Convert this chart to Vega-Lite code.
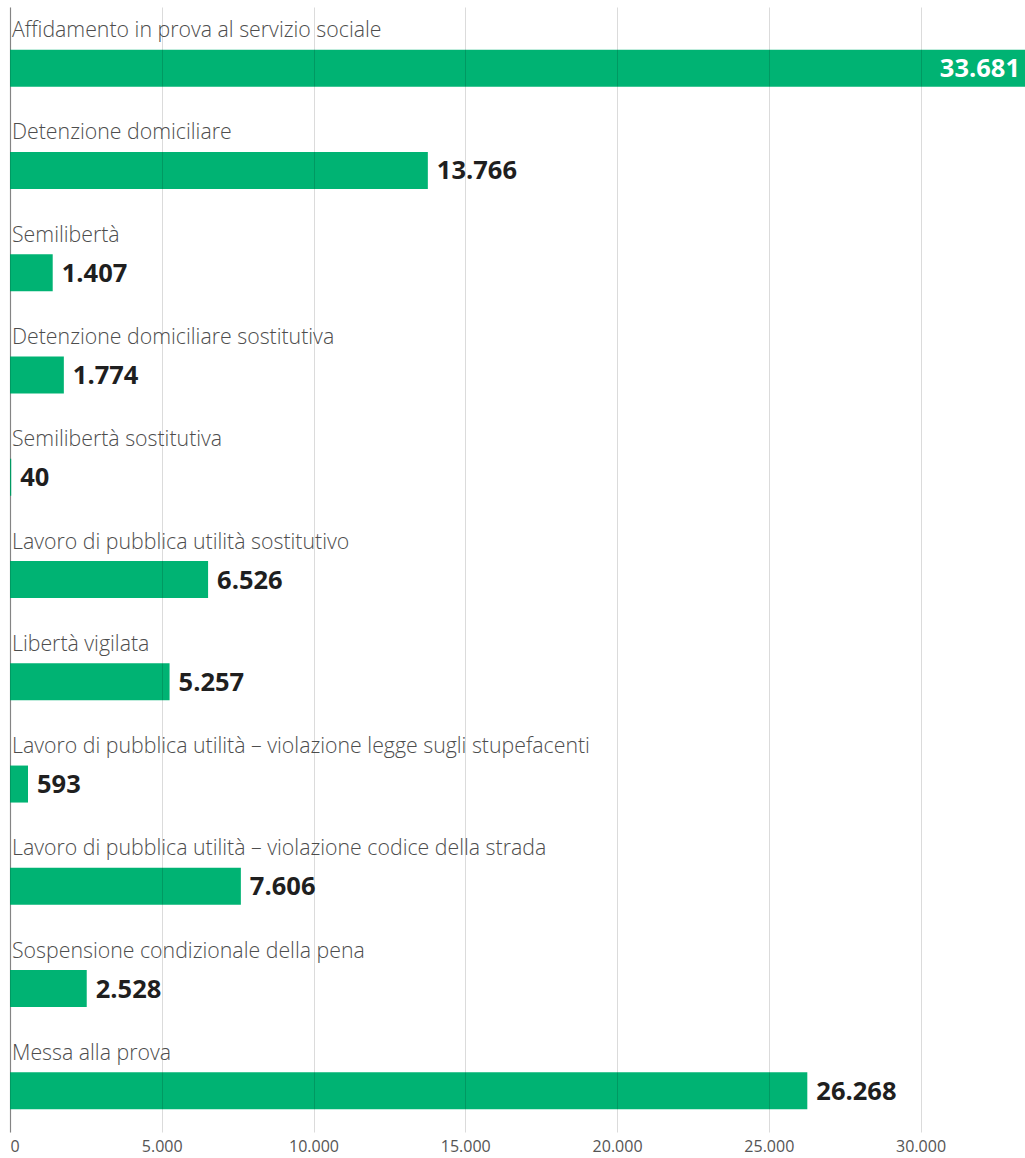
{
  "$schema": "https://vega.github.io/schema/vega-lite/v6.json",
  "width": 1025,
  "height": 1158,
  "padding": {"left": 10, "top": 7, "right": 0, "bottom": 4},
  "autosize": {"type": "fit", "contains": "padding"},
  "config": {
    "view": {"stroke": null},
    "font": "Open Sans",
    "locale": {"number": {"decimal": ",", "thousands": ".", "grouping": [3], "currency": ["€", ""]}}
  },
  "data": {
    "values": [
      {"category": "Affidamento in prova al servizio sociale", "value": 33681},
      {"category": "Detenzione domiciliare", "value": 13766},
      {"category": "Semilibertà", "value": 1407},
      {"category": "Detenzione domiciliare sostitutiva", "value": 1774},
      {"category": "Semilibertà sostitutiva", "value": 40},
      {"category": "Lavoro di pubblica utilità sostitutivo", "value": 6526},
      {"category": "Libertà vigilata", "value": 5257},
      {"category": "Lavoro di pubblica utilità – violazione legge sugli stupefacenti", "value": 593},
      {"category": "Lavoro di pubblica utilità – violazione codice della strada", "value": 7606},
      {"category": "Sospensione condizionale della pena", "value": 2528},
      {"category": "Messa alla prova", "value": 26268}
    ]
  },
  "encoding": {
    "y": {
      "field": "category",
      "type": "nominal",
      "sort": null,
      "scale": {"paddingInner": 0, "paddingOuter": 0},
      "axis": {"labels": false, "ticks": false, "title": null, "grid": false, "domainColor": "#9a9a9a", "domainWidth": 1.2}
    }
  },
  "layer": [
    {
      "mark": {"type": "bar", "height": 37, "yOffset": 10, "color": "#00b373"},
      "encoding": {
        "x": {
          "field": "value",
          "type": "quantitative",
          "scale": {"domain": [0, 33440], "nice": false, "clamp": true},
          "axis": {
            "values": [0, 5000, 10000, 15000, 20000, 25000, 30000],
            "format": ",d",
            "title": null,
            "domain": false,
            "ticks": false,
            "grid": true,
            "gridColor": "#000000",
            "gridOpacity": 0.14,
            "labelFontSize": 16,
            "labelColor": "#555555",
            "labelPadding": 6,
            "labelBaseline": "top",
            "zindex": 1
          }
        }
      }
    },
    {
      "mark": {"type": "text", "align": "left", "baseline": "alphabetic", "dx": 2, "dy": -21, "fontSize": 21.3, "fontWeight": 300, "color": "#4d4d4d"},
      "encoding": {
        "x": {"datum": 0, "type": "quantitative"},
        "text": {"field": "category"}
      }
    },
    {
      "transform": [{"filter": "datum.value < 30000"}],
      "mark": {"type": "text", "align": "left", "baseline": "middle", "dx": 9, "dy": 11, "fontSize": 25.5, "fontWeight": "bold", "color": "#1f1f1f"},
      "encoding": {
        "x": {"field": "value", "type": "quantitative"},
        "text": {"field": "value", "type": "quantitative", "format": ",d"}
      }
    },
    {
      "transform": [{"filter": "datum.value >= 30000"}],
      "mark": {"type": "text", "align": "right", "baseline": "middle", "dx": -5, "dy": 11, "fontSize": 25.5, "fontWeight": "bold", "color": "#ffffff"},
      "encoding": {
        "x": {"field": "value", "type": "quantitative"},
        "text": {"field": "value", "type": "quantitative", "format": ",d"}
      }
    }
  ]
}
